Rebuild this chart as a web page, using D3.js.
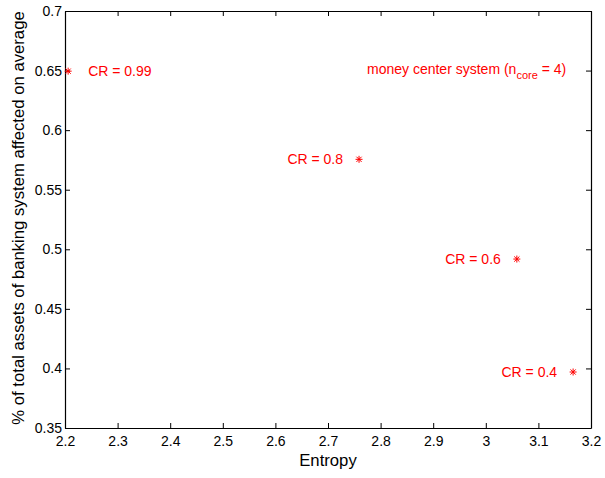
<!DOCTYPE html>
<html>
<head>
<meta charset="utf-8">
<script src="https://cdn.jsdelivr.net/npm/d3@7"></script>
<style>
	body { margin: 0; background: #fff; }
	text { font-family: "Liberation Sans", Arial, sans-serif; }
</style>
</head>
<body>
<div id="chart"></div>
<script>
// values
var crLabels = ['CR = 0.99', 'CR = 0.8', 'CR = 0.6', 'CR = 0.4'];
var entropy = [2.206, 2.759, 3.059, 3.166];
var assetsAffected = [0.6495, 0.5755, 0.4918, 0.397];
var xTicks = [2.2, 2.3, 2.4, 2.5, 2.6, 2.7, 2.8, 2.9, 3, 3.1, 3.2];
var yTicks = [0.35, 0.4, 0.45, 0.5, 0.55, 0.6, 0.65, 0.7];

var width = 605, height = 478;
var margin = {left: 65, right: 14, top: 11, bottom: 50};
var red = '#ff0000';

var svg = d3.select('#chart').append('svg')
	.attr('width', width)
	.attr('height', height);

var x = d3.scaleLinear().domain([2.2, 3.2]).range([margin.left, width - margin.right]);
var y = d3.scaleLinear().domain([0.35, 0.7]).range([height - margin.bottom, margin.top]);

var fmt = function(d) { return String(+d.toFixed(2)); };

// axes, ticks inward, mirrored on top/right
svg.append('g')
	.attr('transform', 'translate(0,' + y(0.35) + ')')
	.call(d3.axisBottom(x).tickValues(xTicks).tickFormat(fmt).tickSizeInner(-5).tickSizeOuter(0).tickPadding(8));
svg.append('g')
	.attr('transform', 'translate(0,' + y(0.7) + ')')
	.call(d3.axisTop(x).tickValues(xTicks).tickFormat('').tickSizeInner(-5).tickSizeOuter(0));
svg.append('g')
	.attr('transform', 'translate(' + x(2.2) + ',0)')
	.call(d3.axisLeft(y).tickValues(yTicks).tickFormat(fmt).tickSizeInner(-5).tickSizeOuter(0).tickPadding(3));
svg.append('g')
	.attr('transform', 'translate(' + x(3.2) + ',0)')
	.call(d3.axisRight(y).tickValues(yTicks).tickFormat('').tickSizeInner(-5).tickSizeOuter(0));

svg.selectAll('.domain').attr('stroke', '#000').attr('stroke-width', 1.2);
svg.selectAll('.tick line').attr('stroke', '#000');
svg.selectAll('.tick text').attr('font-size', 14).attr('fill', '#000')
	.attr('font-family', '"Liberation Sans", Arial, sans-serif');

// axis labels
svg.append('text')
	.attr('x', x(2.7))
	.attr('y', 466)
	.attr('text-anchor', 'middle')
	.attr('font-size', 16.7)
	.text('Entropy');

svg.append('text')
	.attr('transform', 'translate(24,' + 218 + ') rotate(-90)')
	.attr('text-anchor', 'middle')
	.attr('font-size', 16.7)
	.text('% of total assets of banking system affected on average');

// star markers (MATLAB '*')
var pts = d3.range(entropy.length).map(function(i) {
	return {x: entropy[i], y: assetsAffected[i], label: crLabels[i]};
});
var s = 3.5, d = 2.6;
var marks = svg.append('g').selectAll('g').data(pts).enter().append('g')
	.attr('transform', function(p) { return 'translate(' + x(p.x) + ',' + y(p.y) + ')'; });
marks.append('path')
	.attr('d', 'M' + (-s) + ',0H' + s + 'M0,' + (-s) + 'V' + s +
		'M' + (-d) + ',' + (-d) + 'L' + d + ',' + d + 'M' + (-d) + ',' + d + 'L' + d + ',' + (-d))
	.attr('stroke', red)
	.attr('stroke-width', 1)
	.attr('fill', 'none');

// point labels
svg.append('g').selectAll('text').data(pts).enter().append('text')
	.attr('x', function(p, i) { return i === 0 ? x(p.x) + 20 : x(p.x) - 16; })
	.attr('y', function(p) { return y(p.y) + 5; })
	.attr('text-anchor', function(p, i) { return i === 0 ? 'start' : 'end'; })
	.attr('font-size', 14)
	.attr('fill', red)
	.text(function(p) { return p.label; });

// annotation
var note = svg.append('text')
	.attr('x', 367)
	.attr('y', 74)
	.attr('font-size', 14)
	.attr('fill', red);
note.append('tspan').text('money center system (n');
note.append('tspan').attr('font-size', 11).attr('dy', 5).text('core');
note.append('tspan').attr('dy', -5).text(' = 4)');
</script>
</body>
</html>
